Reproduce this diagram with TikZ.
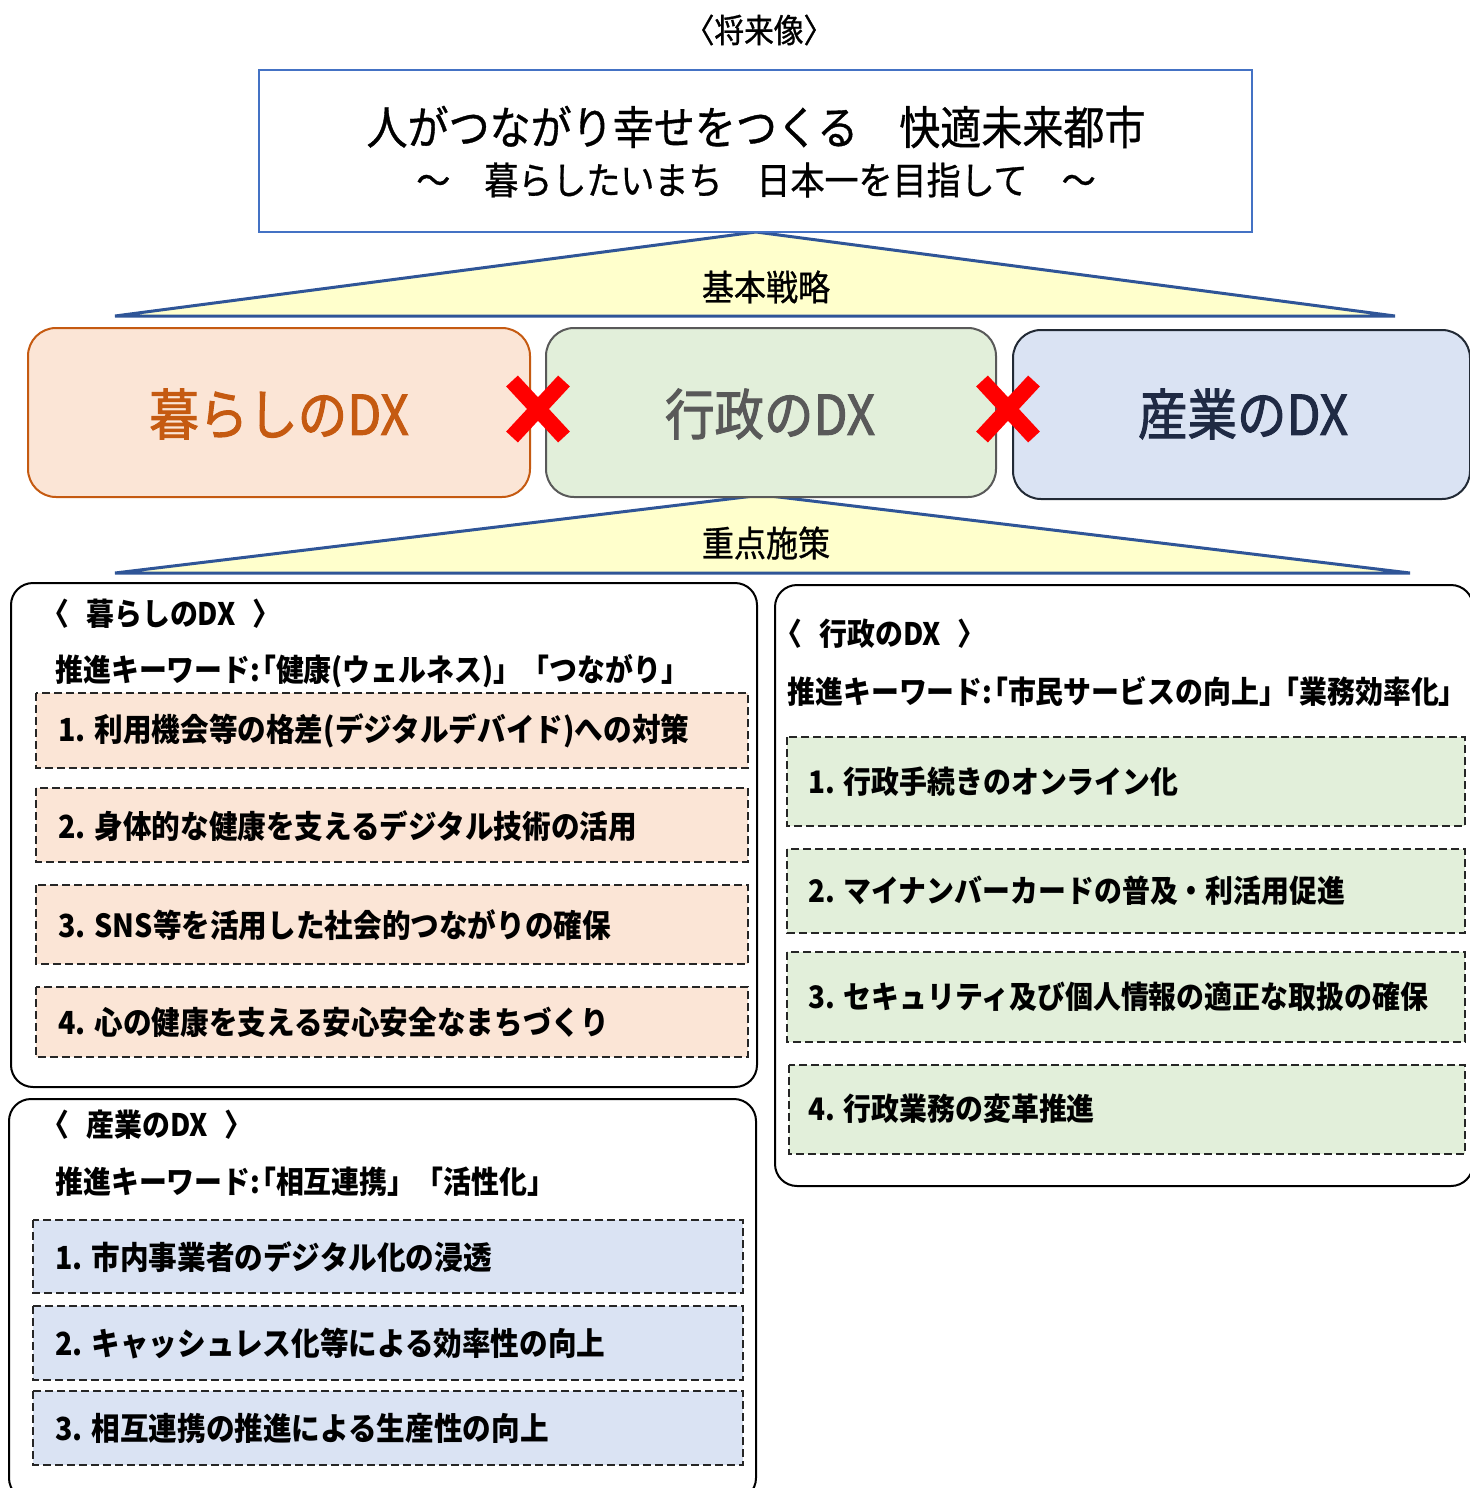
\documentclass[tikz,border=0pt]{standalone}
\usepackage{fontspec}
\setmainfont{Noto Sans CJK JP}[FakeStretch=0.9]
\newfontfamily\jpheavy{Noto Sans CJK JP}[FakeStretch=0.9, FakeBold=0.8]
\newfontfamily\jpbig{Noto Sans CJK JP}[FakeStretch=0.9, FakeBold=1.8]
\definecolor{titleblue}{HTML}{4472C4}
\definecolor{triblue}{HTML}{2F5597}
\definecolor{triyellow}{HTML}{FFFFCC}
\definecolor{orfill}{HTML}{FBE5D6}
\definecolor{ordraw}{HTML}{C55A11}
\definecolor{grfill}{HTML}{E2EFDA}
\definecolor{grdraw}{HTML}{595959}
\definecolor{blfill}{HTML}{DAE3F3}
\definecolor{bldraw}{HTML}{222A35}
\definecolor{bltext}{HTML}{1F2A44}
\definecolor{dashgray}{HTML}{262626}
\newcommand{\colk}{:\kern-0.4em}
\newcommand{\brk}{\kern-0.5em}
\begin{document}
\begin{tikzpicture}[x=0.5pt,y=-0.5pt,
  tri/.style={draw=triblue, fill=triyellow, line width=1.5pt, line join=miter},
  bigbox/.style={rounded corners=14pt, line width=1pt},
  panel/.style={draw=black, rounded corners=11pt, line width=1pt, fill=white},
  item/.style={draw=dashgray, dash pattern=on 4pt off 2pt, line width=0.9pt},
  itemtext/.style={anchor=west, inner sep=0pt, font=\bfseries\fontsize{15.5}{18}\selectfont},
  ltext/.style={anchor=west, inner sep=0pt, font=\bfseries\fontsize{15.9}{18}\selectfont},
  biglabel/.style={inner sep=0pt, font=\jpbig\fontsize{27.5}{32}\selectfont},
  trilabel/.style={inner sep=0pt, font=\jpheavy\fontsize{17.8}{20}\selectfont},
  redx/.style={draw=red, line width=8pt}
]
\useasboundingbox (0,0) rectangle (1470,1488);
\clip (0,0) rectangle (1470,1488);
\fill[white] (0,0) rectangle (1470,1488);

% top label
\node[inner sep=0pt, font=\jpheavy\fontsize{16.5}{18}\selectfont] (future) at (759,30) {〈将来像〉};

% triangles
\draw[tri] (115,316) -- (756,232) -- (1395,316) -- cycle;
\draw[tri] (115,573) -- (762,495) -- (1410,573) -- cycle;

% title box
\draw[draw=titleblue, line width=1.2pt, fill=white] (259,70) rectangle (1252,232);
\node[inner sep=0pt, font=\jpheavy\fontsize{22.8}{26}\selectfont] (title) at (756,127) {人がつながり幸せをつくる　快適未来都市};
\node[inner sep=0pt, font=\jpheavy\fontsize{18.9}{22}\selectfont] (subtitle) at (756,180) {～　暮らしたいまち　日本一を目指して　～};

\node[trilabel] (kihon) at (766,287) {基本戦略};

% three big boxes
\draw[bigbox, draw=ordraw, fill=orfill] (28,328) rectangle (530,497);
\draw[bigbox, draw=grdraw, fill=grfill] (546,328) rectangle (996,497);
\draw[bigbox, draw=bldraw, fill=blfill] (1013,330) rectangle (1470,499);
\node[biglabel, text=ordraw] (kurashi) at (279,414) {暮らしのDX};
\node[biglabel, text=grdraw] (gyosei) at (770,414) {行政のDX};
\node[biglabel, text=bltext] (sangyo) at (1243,414) {産業のDX};

% red crosses
\coordinate (x1) at (538,409);
\coordinate (x2) at (1008,409);
\draw[redx] ([xshift=-13pt,yshift=14pt]x1) -- ([xshift=13pt,yshift=-14pt]x1);
\draw[redx] ([xshift=-13pt,yshift=-14pt]x1) -- ([xshift=13pt,yshift=14pt]x1);
\draw[redx] ([xshift=-13pt,yshift=14pt]x2) -- ([xshift=13pt,yshift=-14pt]x2);
\draw[redx] ([xshift=-13pt,yshift=-14pt]x2) -- ([xshift=13pt,yshift=14pt]x2);

\node[trilabel] (juten) at (766,543) {重点施策};

% ---- left panel: kurashi
\draw[panel] (11,583) rectangle (757,1087);
\node[itemtext] (kh) at (41,614) {〈\hspace{0.55em}暮らしのDX\hspace{0.55em}〉};
\node[itemtext] (kk) at (55,671) {推進キーワード\colk「健康(ウェルネス)」「つながり」};
\draw[item, fill=orfill] (36,693) rectangle (748,768);
\draw[item, fill=orfill] (36,788) rectangle (748,862);
\draw[item, fill=orfill] (36,885) rectangle (748,964);
\draw[item, fill=orfill] (36,987) rectangle (748,1057);
\node[ltext] (k1) at (58,731) {1. 利用機会等の格差(デジタルデバイド)への対策};
\node[ltext] (k2) at (58,826) {2. 身体的な健康を支えるデジタル技術の活用};
\node[ltext] (k3) at (58,925) {3. SNS等を活用した社会的つながりの確保};
\node[ltext] (k4) at (58,1022) {4. 心の健康を支える安心安全なまちづくり};

% ---- right panel: gyosei
\draw[panel] (775,585) rectangle (1473,1186);
\node[itemtext] (gh) at (774,634) {〈\hspace{0.55em}行政のDX\hspace{0.55em}〉};
\node[itemtext] (gk) at (787,691) {推進キーワード\colk「市民サービスの向上」\brk「業務効率化」};
\draw[item, fill=grfill] (787,737) rectangle (1465,826);
\draw[item, fill=grfill] (787,849) rectangle (1465,933);
\draw[item, fill=grfill] (787,952) rectangle (1465,1042);
\draw[item, fill=grfill] (789,1065) rectangle (1465,1154);
\node[itemtext] (g1) at (808,782) {1. 行政手続きのオンライン化};
\node[itemtext] (g2) at (808,891) {2. マイナンバーカードの普及・利活用促進};
\node[itemtext] (g3) at (808,997) {3. セキュリティ及び個人情報の適正な取扱の確保};
\node[itemtext] (g4) at (808,1109) {4. 行政業務の変革推進};

% ---- bottom-left panel: sangyo
\draw[panel] (9,1099) rectangle (756,1500);
\node[itemtext] (sh) at (41,1125) {〈\hspace{0.55em}産業のDX\hspace{0.55em}〉};
\node[itemtext] (sk) at (55,1182) {推進キーワード\colk「相互連携」「活性化」};
\draw[item, fill=blfill] (33,1220) rectangle (743,1293);
\draw[item, fill=blfill] (33,1306) rectangle (743,1380);
\draw[item, fill=blfill] (33,1391) rectangle (743,1465);
\node[ltext] (s1) at (55,1257) {1. 市内事業者のデジタル化の浸透};
\node[ltext] (s2) at (55,1343) {2. キャッシュレス化等による効率性の向上};
\node[ltext] (s3) at (55,1428) {3. 相互連携の推進による生産性の向上};
\end{tikzpicture}
\end{document}
